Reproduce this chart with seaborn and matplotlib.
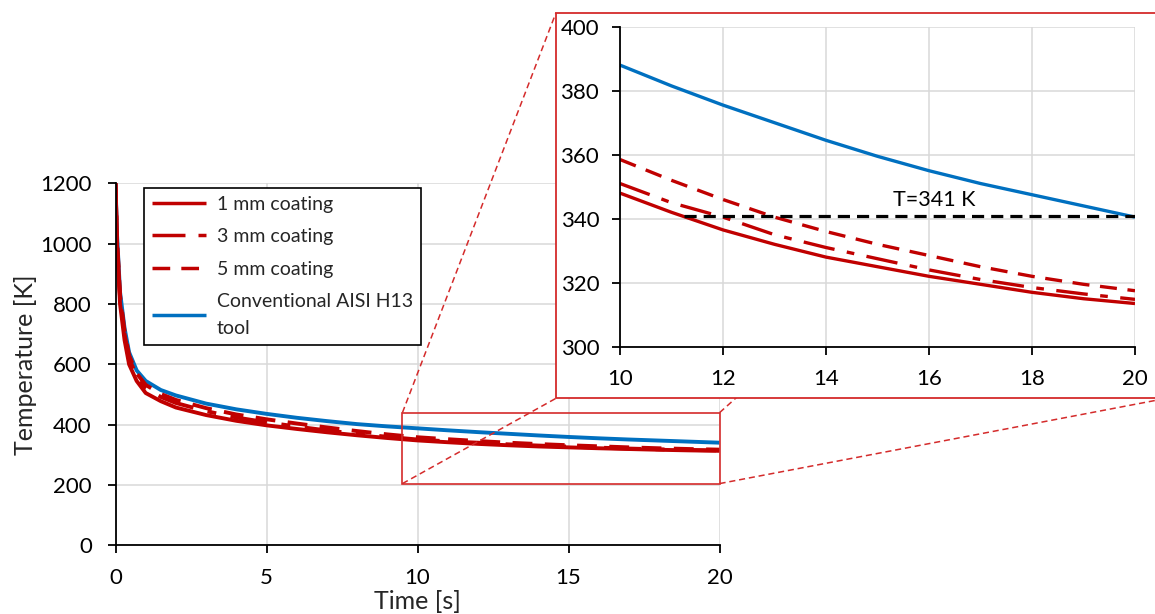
import matplotlib
matplotlib.use("Agg")
import matplotlib.pyplot as plt
import seaborn as sns
import pandas as pd
from matplotlib.patches import Rectangle
from matplotlib.lines import Line2D

# ---------------- data ----------------
time_s = [0, 0.05, 0.15, 0.3, 0.45, 0.7, 1, 1.5, 2, 3, 4, 5, 6, 7, 8, 9,
          10, 11, 12, 13, 14, 15, 16, 17, 18, 19, 20]
coat_1mm = [1200, 1000, 800, 680, 600, 545, 505, 478, 457, 432, 413, 398, 386, 375, 365, 356,
            348, 342, 336.5, 332, 328, 325, 322, 319.5, 317, 315, 313.5]
coat_3mm = [1200, 1010, 820, 700, 620, 560, 522, 492, 472, 445, 424, 408, 394, 381, 370, 360,
            351, 345, 340.5, 335, 331, 327.5, 324, 321, 318.5, 316.5, 314.8]
coat_5mm = [1200, 1020, 830, 710, 630, 570, 532, 502, 482, 455, 434, 418, 404, 391, 379, 368,
            358.5, 352, 346, 340.5, 336, 332, 328.5, 325, 322, 319.5, 317.5]
h13_tool = [1200, 1030, 840, 720, 640, 580, 545, 515, 497, 470, 451, 436, 423, 412, 402, 394.5,
            388, 381.5, 375.5, 370, 364.5, 359.5, 355, 351, 347.5, 344, 340.5]
series_labels = ["1 mm coating", "3 mm coating", "5 mm coating", "Conventional AISI H13\ntool"]
series_colors = ["#C00000", "#C00000", "#C00000", "#0070C0"]

x_ticks_main = [0, 5, 10, 15, 20]
y_ticks_main = [0, 200, 400, 600, 800, 1000, 1200]
x_ticks_inset = [10, 12, 14, 16, 18, 20]
y_ticks_inset = [300, 320, 340, 360, 380, 400]
zoom_x = [9.5, 20]
zoom_y = [205, 440]
threshold_T = 341
threshold_x = [11.25, 20]
threshold_label = "T=341 K"
threshold_label_pos = [16.1, 346]

# ---------------- styling ----------------
sns.set_theme(style="whitegrid")
plt.rcParams["font.family"] = ["Lato", "DejaVu Sans"]
plt.rcParams["xtick.bottom"] = True
plt.rcParams["ytick.left"] = True

frame_red = "#D42B2B"

rows = []
for lab, vals in zip(series_labels, [coat_1mm, coat_3mm, coat_5mm, h13_tool]):
    for t, v in zip(time_s, vals):
        rows.append({"time": t, "T": v, "series": lab})
df = pd.DataFrame(rows)

palette = dict(zip(series_labels, series_colors))
dash_map = {series_labels[0]: "",
            series_labels[1]: (9.5, 3.75, 2.3, 3.75),
            series_labels[2]: (5.1, 3.2),
            series_labels[3]: ""}

fig = plt.figure(figsize=(11.55, 6.14), dpi=100)
ax = fig.add_axes([0.1, 0.1116, 0.523, 0.590])


def draw_lines(axis, data, lw):
    sns.lineplot(data=data, x="time", y="T", hue="series", style="series",
                 hue_order=series_labels, style_order=series_labels,
                 palette=palette, dashes=dash_map, linewidth=lw,
                 legend=False, ax=axis, estimator=None, sort=True)
    for ln in axis.lines:
        ln.set_solid_capstyle("butt")
        ln.set_dash_capstyle("butt")
    axis.lines[3].set_zorder(1.9)


def style_axis(axis, xt, yt, xl, yl):
    axis.set_xlim(*xl)
    axis.set_ylim(*yl)
    axis.set_xticks(xt)
    axis.set_yticks(yt)
    for s in ["top", "right"]:
        axis.spines[s].set_visible(False)
    for s in ["left", "bottom"]:
        axis.spines[s].set_visible(True)
        axis.spines[s].set_color("black")
        axis.spines[s].set_linewidth(1.3)
    axis.tick_params(axis="both", which="major", direction="out", length=6, width=1.3,
                     color="black", labelsize=16, labelcolor="black",
                     bottom=True, left=True, top=False, right=False)
    axis.grid(True, color="#d9d9d9", linewidth=1.1)
    axis.set_facecolor("white")
    axis.set_xlabel("")
    axis.set_ylabel("")


draw_lines(ax, df, 2.8)
style_axis(ax, x_ticks_main, y_ticks_main, (0, 20), (0, 1200))
ax.tick_params(axis="x", pad=10)
ax.tick_params(axis="y", pad=11)
ax.set_xlabel("Time [s]", fontsize=18, labelpad=2)
ax.set_ylabel("Temperature [K]", fontsize=18, labelpad=2.5)

# legend
leg = ax.legend(ax.lines[:4], series_labels, loc="upper left",
                bbox_to_anchor=(0.047, 0.987), borderaxespad=0,
                fontsize=14, frameon=True, fancybox=False, framealpha=1,
                edgecolor="black", handlelength=2.8, handletextpad=0.55,
                borderpad=0.4, labelspacing=0.8)
leg.get_frame().set_linewidth(1.2)
for h in leg.legend_handles:
    h.set_linewidth(2.5)
leg.get_texts()[3].set_linespacing(1.7)

# zoom rectangle on main axes
ax.add_patch(Rectangle((zoom_x[0], zoom_y[0]), zoom_x[1] - zoom_x[0], zoom_y[1] - zoom_y[0],
                       fill=False, edgecolor=frame_red, linewidth=1.2, clip_on=False, zorder=5))

# inset frame
fx0, fy0, fx1, fy1 = 556 / 1155, (614 - 398.3) / 614, 1.01, (614 - 12.7) / 614
frame = Rectangle((fx0, fy0), fx1 - fx0, fy1 - fy0, transform=fig.transFigure,
                  facecolor="white", edgecolor=frame_red, linewidth=1.3, zorder=2)
fig.add_artist(frame)

# connectors (from data corners of the zoom rectangle to the frame corners)
to_fig = ax.transData + fig.transFigure.inverted()
corners = [((zoom_x[0], zoom_y[1]), (fx0, fy1)),
           ((zoom_x[0], zoom_y[0]), (fx0, fy0)),
           ((zoom_x[1], zoom_y[1]), (fx1, fy1)),
           ((zoom_x[1], zoom_y[0]), (fx1, fy0))]
for (dxy, fxy) in corners:
    p = to_fig.transform(dxy)
    fig.add_artist(Line2D([p[0], fxy[0]], [p[1], fxy[1]], transform=fig.transFigure,
                          color=frame_red, linewidth=1.1, linestyle=(0, (4, 2.5)), zorder=1))

# inset axes
axi = fig.add_axes([0.5368, 0.4353, 0.4459, 0.5212], zorder=3)
df_in = df[df["time"] >= 10]
draw_lines(axi, df_in, 2.4)
style_axis(axi, x_ticks_inset, y_ticks_inset, (10, 20), (300, 400))
axi.tick_params(axis="x", pad=10)
axi.tick_params(axis="y", pad=9)
axi.plot(threshold_x, [threshold_T, threshold_T], color="black", linewidth=2.3,
         linestyle=(0, (3.8, 2.2)), zorder=4)
axi.text(threshold_label_pos[0], threshold_label_pos[1], threshold_label, fontsize=15.5,
         ha="center", va="center", color="black")

fig.savefig("out.png", dpi=100)
